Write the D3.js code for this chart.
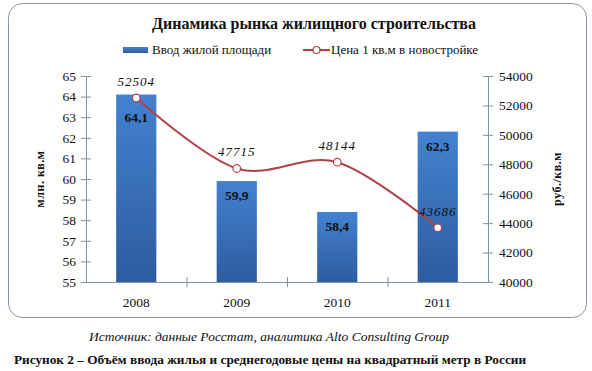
<!DOCTYPE html>
<html>
<head>
<meta charset="utf-8">
<script src="https://cdn.jsdelivr.net/npm/d3@7"></script>
<style>
  body { margin: 0; background: #fff; }
  svg text { font-family: "Liberation Serif", "Times New Roman", serif; fill: #111; }
</style>
</head>
<body>
<div id="chart"></div>
<script>
const years = ["2008", "2009", "2010", "2011"];
const area = [64.1, 59.9, 58.4, 62.3];
const price = [52504, 47715, 48144, 43686];
const areaTicks = [55, 56, 57, 58, 59, 60, 61, 62, 63, 64, 65];
const priceTicks = [40000, 42000, 44000, 46000, 48000, 50000, 52000, 54000];

const width = 592;
const height = 371;
const margin = ({top: 76, right: 104, bottom: 89, left: 86});
const serif = "'Liberation Serif', 'Times New Roman', serif";

const svg = d3.select("#chart").append("svg")
	.attr("width", width)
	.attr("height", height);

const defs = svg.append("defs");
const grad = defs.append("linearGradient")
	.attr("id", "barGrad")
	.attr("x1", 0).attr("y1", 0).attr("x2", 0).attr("y2", 1);
grad.append("stop").attr("offset", "0%").attr("stop-color", "#4382d0");
grad.append("stop").attr("offset", "100%").attr("stop-color", "#2d5c9f");

// outer frame
svg.append("rect")
	.attr("x", 8.5).attr("y", 3.5)
	.attr("width", 578).attr("height", 314)
	.attr("rx", 14).attr("ry", 14)
	.attr("fill", "#fff")
	.attr("stroke", "#8595a6")
	.attr("stroke-width", 1);

const x = d3.scaleBand()
	.domain(years)
	.range([margin.left, width - margin.right])
	.paddingInner(0.6)
	.paddingOuter(0.3);

const y = d3.scaleLinear().domain([55, 65]).range([height - margin.bottom, margin.top]);
const y2 = d3.scaleLinear().domain([40000, 54000]).range([height - margin.bottom, margin.top]);

const axisColor = "#7f93a8";

// bars
svg.append("g")
	.selectAll("rect")
	.data(area)
	.join("rect")
		.attr("x", (d, i) => x(years[i]))
		.attr("y", d => y(d))
		.attr("width", x.bandwidth())
		.attr("height", d => y(55) - y(d))
		.attr("fill", "url(#barGrad)");

// left axis
const gl = svg.append("g")
	.attr("transform", `translate(${margin.left},0)`)
	.call(d3.axisLeft(y).tickValues(areaTicks).tickSize(5).tickSizeOuter(0).tickPadding(5));
gl.selectAll(".tick line").attr("x2", -5).attr("x1", 5);

// right axis
const gr = svg.append("g")
	.attr("transform", `translate(${width - margin.right},0)`)
	.call(d3.axisRight(y2).tickValues(priceTicks).tickFormat(d3.format("d")).tickSize(5).tickSizeOuter(0).tickPadding(6));
gr.selectAll(".tick line").attr("x1", -5).attr("x2", 5);

// bottom axis, ticks between categories
const xb = d3.scaleLinear().domain([0, years.length]).range([margin.left, width - margin.right]);
const gb = svg.append("g")
	.attr("transform", `translate(0,${height - margin.bottom})`)
	.call(d3.axisBottom(xb).tickValues(d3.range(1, years.length)).tickFormat("").tickSize(5).tickSizeOuter(0));
gb.selectAll(".tick line").attr("y1", -5).attr("y2", 5);

svg.selectAll(".domain, .tick line").attr("stroke", axisColor);
svg.selectAll(".tick text")
	.style("font-family", serif)
	.style("font-size", "13.5px")
	.attr("fill", "#111");

// year labels
svg.append("g")
	.selectAll("text")
	.data(years)
	.join("text")
		.attr("x", d => x(d) + x.bandwidth() / 2)
		.attr("y", height - margin.bottom + 25)
		.attr("text-anchor", "middle")
		.attr("font-size", 13.5)
		.text(d => d);

// price line
const line = d3.line()
	.x((d, i) => x(years[i]) + x.bandwidth() / 2)
	.y(d => y2(d))
	.curve(d3.curveCatmullRom.alpha(0));

svg.append("path")
	.datum(price)
	.attr("fill", "none")
	.attr("stroke", "#b0434a")
	.attr("stroke-width", 2)
	.attr("d", line);

svg.append("g")
	.selectAll("circle")
	.data(price)
	.join("circle")
		.attr("cx", (d, i) => x(years[i]) + x.bandwidth() / 2)
		.attr("cy", d => y2(d))
		.attr("r", 3.8)
		.attr("fill", "#fff")
		.attr("stroke", "#b0434a")
		.attr("stroke-width", 1.2);

// bar value labels
svg.append("g")
	.selectAll("text")
	.data(area)
	.join("text")
		.attr("x", (d, i) => x(years[i]) + x.bandwidth() / 2)
		.attr("y", (d, i) => {
			const top = y(d);
			const near = Math.abs(y2(price[i]) - top) < 12;
			return top + (near ? 27 : 19);
		})
		.attr("text-anchor", "middle")
		.attr("font-size", 13.5)
		.attr("font-weight", "bold")
		.attr("fill", "#0e1a33")
		.text(d => d3.format(".1f")(d).replace(".", ","));

// price labels
svg.append("g")
	.selectAll("text")
	.data(price)
	.join("text")
		.attr("x", (d, i) => x(years[i]) + x.bandwidth() / 2)
		.attr("y", d => y2(d) - 12)
		.attr("text-anchor", "middle")
		.attr("font-size", 13)
		.attr("font-style", "italic")
		.attr("letter-spacing", "1px")
		.attr("fill", "#222")
		.text(d => d);

// axis titles
svg.append("text")
	.attr("transform", `translate(44,${(margin.top + height - margin.bottom) / 2}) rotate(-90)`)
	.attr("text-anchor", "middle")
	.attr("font-size", 12)
	.attr("font-weight", "bold")
	.attr("letter-spacing", "0.5px")
	.text("млн. кв.м");

svg.append("text")
	.attr("transform", `translate(561,${(margin.top + height - margin.bottom) / 2}) rotate(-90)`)
	.attr("text-anchor", "middle")
	.attr("font-size", 12)
	.attr("font-weight", "bold")
	.attr("letter-spacing", "0.5px")
	.text("руб./кв.м");

// title
svg.append("text")
	.attr("x", 314)
	.attr("y", 29)
	.attr("text-anchor", "middle")
	.attr("font-size", 16)
	.attr("font-weight", "bold")
	.text("Динамика рынка жилищного строительства");

// legend
const lg = svg.append("g");
lg.append("rect")
	.attr("x", 123).attr("y", 47)
	.attr("width", 25).attr("height", 6)
	.attr("fill", "url(#barGrad)");
lg.append("text")
	.attr("x", 152).attr("y", 54)
	.attr("font-size", 13)
	.text("Ввод жилой площади");
lg.append("line")
	.attr("x1", 303).attr("x2", 330)
	.attr("y1", 50).attr("y2", 50)
	.attr("stroke", "#b0434a").attr("stroke-width", 2);
lg.append("circle")
	.attr("cx", 316.5).attr("cy", 50).attr("r", 3.5)
	.attr("fill", "#fff").attr("stroke", "#b0434a").attr("stroke-width", 1.2);
lg.append("text")
	.attr("x", 331).attr("y", 54)
	.attr("font-size", 13)
	.text("Цена 1 кв.м в новостройке");

// source and caption
svg.append("text")
	.attr("x", 269)
	.attr("y", 341)
	.attr("text-anchor", "middle")
	.attr("font-size", 13.5)
	.attr("font-style", "italic")
	.text("Источник: данные Росстат, аналитика Alto Consulting Group");

svg.append("text")
	.attr("x", 270)
	.attr("y", 364)
	.attr("text-anchor", "middle")
	.attr("font-size", 13.3)
	.attr("font-weight", "bold")
	.text("Рисунок 2 – Объём ввода жилья и среднегодовые цены на квадратный метр в России");
</script>
</body>
</html>
